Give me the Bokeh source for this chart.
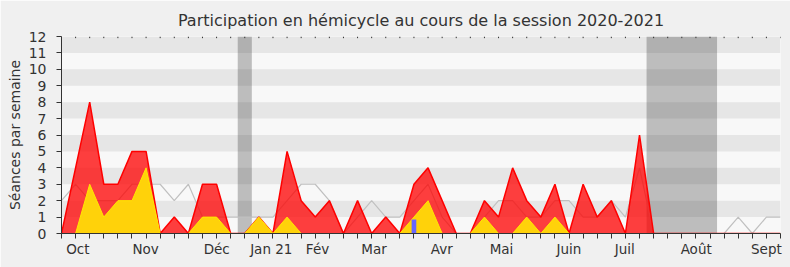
from bokeh.plotting import figure
from bokeh.models import FixedTicker, Range1d, BoxAnnotation
from bokeh.embed import file_html
from bokeh.resources import INLINE

# ---- data ----
weeks = list(range(52))
total_sessions = [0, 4, 8, 3, 3, 5, 5, 0, 1, 0,
                  3, 3, 0, 0, 1, 0, 5, 2, 1, 2,
                  0, 2, 0, 1, 0, 3, 4, 2, 0, 0,
                  2, 1, 4, 2, 1, 3, 0, 3, 1, 2,
                  0, 6, 0, 0, 0, 0, 0, 0, 0, 0, 0, 0]
hemicycle_sessions = [0, 0, 3, 1, 2, 2, 4, 0, 0, 0,
                      1, 1, 0, 0, 1, 0, 1, 0, 0, 0,
                      0, 0, 0, 0, 0, 1, 2, 0, 0, 0,
                      1, 0, 0, 1, 0, 1, 0, 0, 0, 0,
                      0, 0, 0, 0, 0, 0, 0, 0, 0, 0, 0, 0]
median_sessions = [2, 3, 2, 2, 2, 3, 3, 3, 2, 3,
                   1, 1, 1, 1, 1, 1, 2, 3, 3, 2,
                   0, 1, 2, 1, 1, 2, 3, 1, 0, 0,
                   1, 2, 2, 1, 1, 2, 2, 1, 1, 2,
                   1, 4, 0, 0, 0, 0, 0, 0, 1, 0, 1, 1]
question_weeks = [25]
question_values = [0.85]
holiday_starts = [12.5, 41.5]
holiday_ends = [13.5, 46.5]
month_positions = [1.16, 5.97, 11.01, 14.88, 18.16, 22.17, 26.98, 31.21, 35.99, 39.95, 45.02, 50.0]
month_labels = ["Oct", "Nov", "Déc", "Jan 21", "Fév", "Mar", "Avr", "Mai", "Juin", "Juil", "Août", "Sept"]
y_ticks = list(range(13))
y_max = 12

FONT = "DejaVu Sans"
TXT = "#333333"

p = figure(width=790, height=267, x_range=Range1d(0, 51), y_range=Range1d(0, y_max),
           output_backend="svg", toolbar_location=None,
           min_border_left=61, min_border_right=10, min_border_top=36, min_border_bottom=34,
           background_fill_color="#f8f8f8", border_fill_color="#f0f0f0",
           outline_line_color=None,
           title="Participation en hémicycle au cours de la session 2020-2021")
p.title.align = "center"
p.title.vertical_align = "top"
p.title.text_font = FONT
p.title.text_font_size = "16px"
p.title.text_font_style = "normal"
p.title.text_color = TXT
p.title.offset = 6
p.xgrid.visible = False
p.ygrid.visible = False

# background stripes
for k in range(1, 12, 2):
    p.add_layout(BoxAnnotation(bottom=k, top=k + 1, fill_color="#e6e6e6", fill_alpha=1,
                               line_color=None, level="underlay"))
# holiday bands
for a, b in zip(holiday_starts, holiday_ends):
    p.add_layout(BoxAnnotation(left=a, right=b, fill_color="#000000", fill_alpha=0.235,
                               line_color=None, level="underlay"))

p.line(weeks, median_sessions, line_color="#c0c0c0", line_width=1.2)
p.varea(x=weeks, y1=0, y2=total_sessions, fill_color="#ff0000", fill_alpha=0.75)
p.line(weeks, total_sessions, line_color="#ff0000", line_width=1.5)
p.varea(x=weeks, y1=0, y2=hemicycle_sessions, fill_color="#ffd20a", fill_alpha=1)
p.line(weeks, hemicycle_sessions, line_color="#ffe800", line_width=1)
p.vbar(x=question_weeks, top=question_values, width=0.33, fill_color="#6666ff", line_color=None)

# small tick marks along the top edge, one per week
p.segment(x0=weeks, x1=weeks, y0=y_max, y1=y_max - 0.1, line_color="#333333", line_width=1)

# axes
xa = p.xaxis[0]
xa.ticker = FixedTicker(ticks=month_positions, minor_ticks=weeks)
xa.major_label_overrides = {pos: lab for pos, lab in zip(month_positions, month_labels)}
xa.major_tick_out = 0
xa.major_tick_in = 0
xa.minor_tick_out = 5
xa.minor_tick_in = 0
xa.minor_tick_line_color = "#333333"
xa.axis_line_color = "#333333"
xa.major_label_text_font = FONT
xa.major_label_text_font_size = "13.5px"
xa.major_label_text_color = TXT
xa.major_label_standoff = 2

ya = p.yaxis[0]
ya.ticker = FixedTicker(ticks=y_ticks)
ya.major_tick_out = 5
ya.major_tick_in = 0
ya.minor_tick_out = 0
ya.minor_tick_in = 0
ya.axis_line_color = "#333333"
ya.major_tick_line_color = "#333333"
ya.major_label_text_font = FONT
ya.major_label_text_font_size = "14px"
ya.major_label_text_color = TXT
ya.major_label_standoff = 10
ya.axis_label = "Séances par semaine"
ya.axis_label_text_font = FONT
ya.axis_label_text_font_size = "14px"
ya.axis_label_text_font_style = "normal"
ya.axis_label_text_color = TXT
ya.axis_label_standoff = 3

open("out.html", "w").write(file_html(p, INLINE))
